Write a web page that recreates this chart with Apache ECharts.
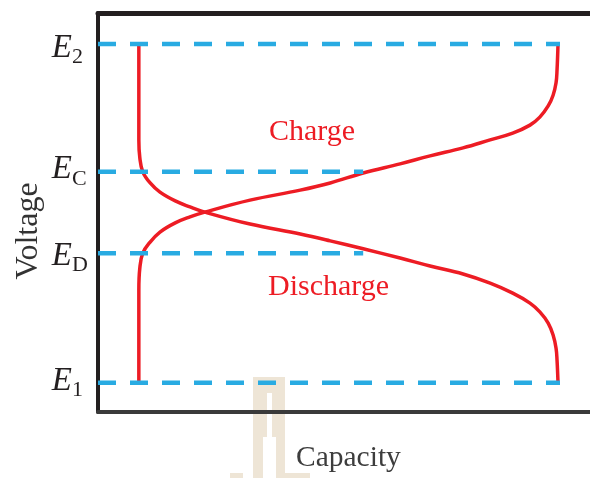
<!DOCTYPE html>
<html><head><meta charset="utf-8">
<script src="https://cdn.jsdelivr.net/npm/echarts@6/dist/echarts.min.js"></script>
<style>html,body{margin:0;padding:0;background:#fff}#c{width:590px;height:478px}</style>
</head><body><div id="c"></div>
<script>
// Reference levels (arbitrary voltage units 0-100)
const levelNames = ['2', 'C', 'D', '1'];
const levelValues = [92.2, 60.2, 39.8, 7.3];
const levelEnds = [93.9, 53.9, 53.9, 93.9];

// Charge curve (capacity, voltage)
const chargeCap = [8.3, 8.3, 8.3, 8.5, 9.1, 10.6, 12.6, 15.7, 18.7, 21.7, 30.9, 41.1, 47.2, 53.9, 61.4, 67.5, 74.2, 79.7, 84.3, 87.8, 89.8, 91.5, 92.5, 93.1, 93.3, 93.5];
const chargeVolt = [7.3, 20.6, 30.6, 36.1, 39.8, 42.6, 45.1, 47.4, 48.9, 50.1, 53.1, 55.6, 57.4, 59.9, 62.2, 64.2, 66.2, 68.2, 69.9, 71.9, 73.9, 76.7, 79.4, 82.5, 85.7, 92.2];

// Discharge curve (capacity, voltage)
const dischargeCap = [8.3, 8.3, 8.3, 8.5, 9.1, 10.6, 12.6, 15.7, 18.7, 21.7, 30.9, 41.1, 47.2, 53.9, 61.4, 67.5, 74.2, 79.7, 84.3, 87.8, 89.8, 91.5, 92.5, 93.1, 93.3, 93.5];
const dischargeVolt = [92.2, 78.2, 68.2, 63.7, 60.2, 57.4, 55.1, 52.9, 51.4, 50.1, 47.1, 44.6, 42.9, 40.9, 38.6, 36.6, 34.6, 32.3, 29.8, 27.3, 25.1, 22.3, 19.3, 16.0, 13.0, 7.3];

const curveLabels = ['Charge', 'Discharge'];
const axisTitles = ['Capacity', 'Voltage'];

const serif = "'Liberation Serif','Times New Roman',serif";
const red = '#ed1c24';
const blue = '#29abe2';
const ink = '#231f20';

const zip = (a, b) => a.map((v, i) => [v, b[i]]);

const series = [];
levelValues.forEach((v, i) => {
  series.push({
    type: 'line', symbol: 'none', silent: true, z: 3,
    data: [[0, v], [levelEnds[i], v]],
    lineStyle: { color: blue, width: 4.5, type: [18, 14], cap: 'butt' }
  });
});
series.push({
  type: 'line', symbol: 'none', smooth: 0.4, silent: true, z: 2,
  data: zip(chargeCap, chargeVolt),
  lineStyle: { color: red, width: 3.5 }
});
series.push({
  type: 'line', symbol: 'none', smooth: 0.4, silent: true, z: 2,
  data: zip(dischargeCap, dischargeVolt),
  lineStyle: { color: red, width: 3.5 }
});

const chart = echarts.init(document.getElementById('c'), null, { renderer: 'canvas' });
chart.setOption({
  animation: false,
  backgroundColor: '#fff',
  grid: { left: 98, right: 0, top: 13, bottom: 66 },
  xAxis: [
    { type: 'value', min: 0, max: 100, position: 'bottom',
      axisLine: { show: true, lineStyle: { color: '#3a3a3a', width: 4 } },
      axisTick: { show: false }, axisLabel: { show: false }, splitLine: { show: false } },
    { type: 'value', min: 0, max: 100, position: 'top',
      axisLine: { show: true, lineStyle: { color: ink, width: 5 } },
      axisTick: { show: false }, axisLabel: { show: false }, splitLine: { show: false } }
  ],
  yAxis: { type: 'value', min: 0, max: 100,
    axisLine: { show: true, lineStyle: { color: ink, width: 4 } },
    axisTick: { show: false }, axisLabel: { show: false }, splitLine: { show: false } },
  series: series
});

// Level labels (E with subscript), placed at each level's pixel row
const labelShift = [4, -2, 3, -2];
const graphics = [
  { type: 'group', z: -1, silent: true, children: [
    { type: 'rect', shape: { x: 253, y: 377, width: 32, height: 101 }, style: { fill: '#eee5d6' } },
    { type: 'rect', shape: { x: 267, y: 393, width: 5, height: 44 }, style: { fill: '#fff' } },
    { type: 'rect', shape: { x: 263, y: 437, width: 13, height: 41 }, style: { fill: '#fff' } },
    { type: 'rect', shape: { x: 230, y: 473, width: 13, height: 5 }, style: { fill: '#eee5d6' } },
    { type: 'rect', shape: { x: 285, y: 473, width: 25, height: 5 }, style: { fill: '#eee5d6' } }
  ] },
  { type: 'text', left: 269, top: 117, style: { text: curveLabels[0], font: '30px ' + serif, fill: red } },
  { type: 'text', left: 268, top: 272, style: { text: curveLabels[1], font: '30px ' + serif, fill: red } },
  { type: 'text', left: 296, top: 443, style: { text: axisTitles[0], font: '29.5px ' + serif, fill: '#3d3d3d' } },
  { type: 'text', x: 13, y: 231, rotation: Math.PI / 2, style: { text: axisTitles[1], font: '32px ' + serif, fill: '#333', align: 'center', verticalAlign: 'top' } }
];
levelValues.forEach((v, i) => {
  const py = chart.convertToPixel({ xAxisIndex: 0, yAxisIndex: 0 }, [0, v])[1];
  const cy = py + labelShift[i];
  graphics.push({ type: 'text', x: 72, y: cy, style: { text: 'E', font: 'italic 33px ' + serif, fill: ink, align: 'right', verticalAlign: 'middle' } });
  graphics.push({ type: 'text', x: 72, y: cy + 9, style: { text: levelNames[i], font: '22px ' + serif, fill: ink, align: 'left', verticalAlign: 'middle' } });
});
chart.setOption({ graphic: graphics });
</script></body></html>
